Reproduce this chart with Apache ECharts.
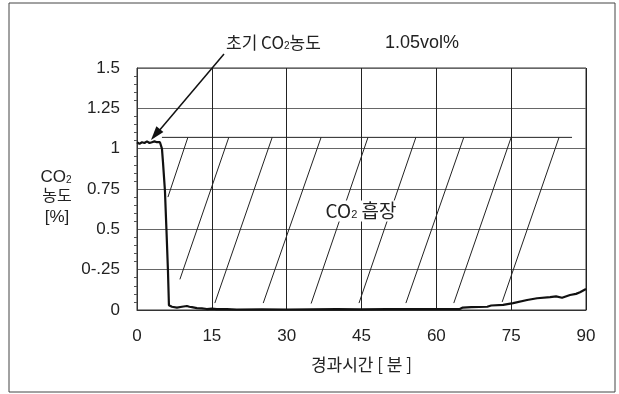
<!DOCTYPE html>
<html><head><meta charset="utf-8">
<script src="https://cdn.jsdelivr.net/npm/echarts@6/dist/echarts.min.js"></script>
<style>html,body{margin:0;padding:0;background:#fff}#c{width:619px;height:394px}</style>
</head><body><div id="c"></div>
<script>
// ---- data ----
const xTickLabels = ['0','15','30','45','60','75','90'];
const yTickLabels = ['0','0-.25','0.5','0.75','1','1.25','1.5'];
const timeMin = [0,0.5,1,1.5,2,2.5,3,3.5,4,4.6,5.0,5.2,5.6,5.9,6.2,6.4,6.7,7,8,9,10,10.5,11,12,13,14,15,16,18,20,25,30,35,40,45,50,55,60,62,64.7,65.3,67,70.2,71,73.4,75.4,78.2,80.2,82.8,84,85.2,86.8,88,88.8,90];
const co2 = [1.04,1.03,1.04,1.035,1.045,1.035,1.04,1.045,1.04,1.04,1.0,0.92,0.74,0.5,0.25,0.03,0.018,0.02,0.015,0.02,0.025,0.02,0.018,0.012,0.01,0.006,0.008,0.005,0.005,0.003,0.004,0.003,0.004,0.005,0.004,0.005,0.006,0.006,0.005,0.006,0.015,0.018,0.02,0.028,0.032,0.043,0.062,0.073,0.08,0.084,0.076,0.093,0.1,0.11,0.13];
// CO2 storage hatch region
const hatchTopLevel = 1.07;
const hatchTopX = [5.0, 87.2];
const hatchStartX = [6.2, 8.6, 15.6, 25.3, 34.9, 44.5, 53.9, 63.5, 73.2];
const hatchStartY = [0.70, 0.19, 0.043, 0.043, 0.04, 0.043, 0.043, 0.043, 0.05];
const hatchEndX = [10.2, 18.4, 27.1, 36.9, 46.3, 55.9, 65.5, 75.0, 84.6];

// ---- chart ----
const chart = echarts.init(document.getElementById('c'), null, {renderer:'canvas'});
const numFont = "'Liberation Sans', Arial, sans-serif";
const korFont = "'Noto Sans CJK KR', sans-serif";
const series = [];
hatchStartX.forEach((x0, i) => {
  series.push({
    type:'line', silent:true, symbol:'none', z:2, animation:false,
    lineStyle:{color:'#222', width:1},
    data:[[x0, hatchStartY[i]], [hatchEndX[i], hatchTopLevel]]
  });
});
series.push({
  type:'line', silent:true, symbol:'none', z:2, animation:false,
  lineStyle:{color:'#222', width:1},
  data:[[hatchTopX[0], hatchTopLevel], [hatchTopX[1], hatchTopLevel]]
});
series.push({
  type:'line', symbol:'none', z:5, animation:false,
  lineStyle:{color:'#111', width:2.2},
  data: timeMin.map((t, i) => [t, co2[i]])
});

const sub = (fs) => ({fontSize:fs, fill:'#222', fontFamily:numFont, padding:[Math.round(fs*0.6),0,0,0]});

chart.setOption({
  backgroundColor:'#fff',
  animation:false,
  grid:{left:137, right:33, top:68, bottom:84, show:true, borderColor:'#333', borderWidth:1, backgroundColor:'transparent'},
  xAxis:{
    type:'value', min:0, max:90, interval:15,
    name:'경과시간 [ 분 ]', nameLocation:'middle', nameGap:46,
    nameTextStyle:{fontFamily:korFont, fontSize:17, color:'#222'},
    axisLine:{show:true, lineStyle:{color:'#333'}},
    axisTick:{show:false},
    axisLabel:{margin:18, fontFamily:numFont, fontSize:17, color:'#222',
      formatter:(v)=>xTickLabels[Math.round(v/15)]},
    splitLine:{show:true, lineStyle:{color:'#222', width:1}}
  },
  yAxis:{
    type:'value', min:0, max:1.5, interval:0.25,
    axisLine:{show:true, lineStyle:{color:'#333'}},
    axisTick:{show:false},
    minorTick:{show:true, splitNumber:5, length:3, lineStyle:{color:'#555'}},
    axisLabel:{margin:17, fontFamily:numFont, fontSize:17, color:'#222',
      formatter:(v)=>yTickLabels[Math.round(v/0.25)]},
    splitLine:{show:true, lineStyle:{color:'#666', width:1}}
  },
  series: series,
  graphic:[
    {type:'rect', shape:{x:9, y:3, width:606, height:389}, style:{fill:'none', stroke:'#444', lineWidth:1}, z:0, silent:true},
    // y-axis title
    {type:'text', x:56, y:177, z:10, style:{text:'CO{s|2}', fontFamily:numFont, fontSize:17, fill:'#222', align:'center', verticalAlign:'middle',
      rich:{s:sub(10)}}},
    {type:'text', x:57, y:195, z:10, style:{text:'농도', fontFamily:korFont, fontSize:16, fill:'#222', align:'center', verticalAlign:'middle'}},
    {type:'text', x:57, y:217, z:10, style:{text:'[%]', fontFamily:numFont, fontSize:17, fill:'#222', align:'center', verticalAlign:'middle'}},
    // annotation
    {type:'text', x:226, y:43, z:10, style:{text:'초기 CO{s|2}농도', fontFamily:korFont, fontSize:17, fill:'#222', align:'left', verticalAlign:'middle',
      rich:{s:sub(10)}}},
    {type:'text', x:385, y:43, z:10, style:{text:'1.05vol%', fontFamily:numFont, fontSize:18, fill:'#222', align:'left', verticalAlign:'middle'}},
    {type:'line', z:10, shape:{x1:224, y1:54, x2:158, y2:132}, style:{stroke:'#111', lineWidth:1.5}},
    {type:'polygon', z:10, shape:{points:[[151,140],[163.4,132.1],[156.4,126.3]]}, style:{fill:'#111'}},
    // region label
    {type:'text', x:361, y:211, z:10, style:{text:'CO{s|2} 흡장', fontFamily:korFont, fontSize:19, fill:'#222', align:'center', verticalAlign:'middle',
      backgroundColor:'#fff', padding:[1,3],
      rich:{s:Object.assign(sub(11), {backgroundColor:'#fff'})}}}
  ]
});
</script></body></html>
